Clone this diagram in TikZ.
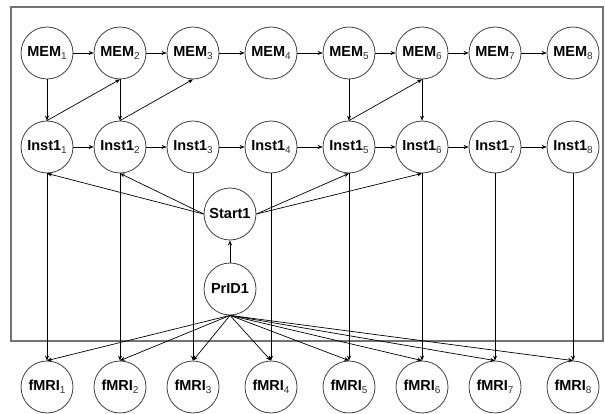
\documentclass[tikz,border=0pt]{standalone}
\usepackage{fontspec}
\setmainfont{Liberation Sans}
\usetikzlibrary{arrows.meta}
\newcommand{\sbs}[1]{\raisebox{-3pt}{\mdseries\fontsize{10}{10}\selectfont\color{black!80}#1}}
\begin{document}
\begin{tikzpicture}[x=1pt,y=-1pt,
  var/.style={circle, draw=black!75, line width=0.8pt, minimum size=52pt, inner sep=0pt, font=\fontsize{14.5}{14.5}\selectfont\bfseries},
  arr/.style={-{Stealth[length=5pt,width=4pt]}, line width=0.7pt},
  frame/.style={draw=black!55, line width=1.5pt}]
\useasboundingbox (0,0) rectangle (605,414);
\draw[frame] (11,7) rectangle (603,341);
\foreach \i/\x in {1/47,2/120,3/193,4/271,5/349,6/422,7/495,8/573} {
  \node[var] (M\i) at (\x,53) {MEM\sbs{\i}};
  \node[var] (I\i) at (\x,147) {Inst1\sbs{\i}};
  \node[var] (F\i) at (\x,387) {fMRI\sbs{\i}};
}
\node[var] (S) at (230,214) {Start1};
\node[var] (P) at (230,289) {PrID1};
\foreach \i/\j in {1/2,2/3,3/4,4/5,5/6,6/7,7/8} {
  \draw[arr] (M\i) -- (M\j);
  \draw[arr] (I\i) -- (I\j);
}
\foreach \i in {1,...,8} {
  \draw[arr] (I\i.south) -- (F\i.north);
  \draw[arr] (P.south) -- (F\i.north);
}
\foreach \i/\j in {1/2,2/3,5/6} {
  \draw[arr] (M\i.south) -- (I\i.north);
  \draw[arr] (I\i.north) -- (M\j.south);
}
\draw[arr] (M6.south) -- (I6.north);
\draw[arr] (S.west) -- (I1.south);
\draw[arr] (S.west) -- (I2.south);
\draw[arr] (S.east) -- (I5.south);
\draw[arr] (S.east) -- (I6.south);
\draw[arr] (P) -- (S);
\end{tikzpicture}
\end{document}
